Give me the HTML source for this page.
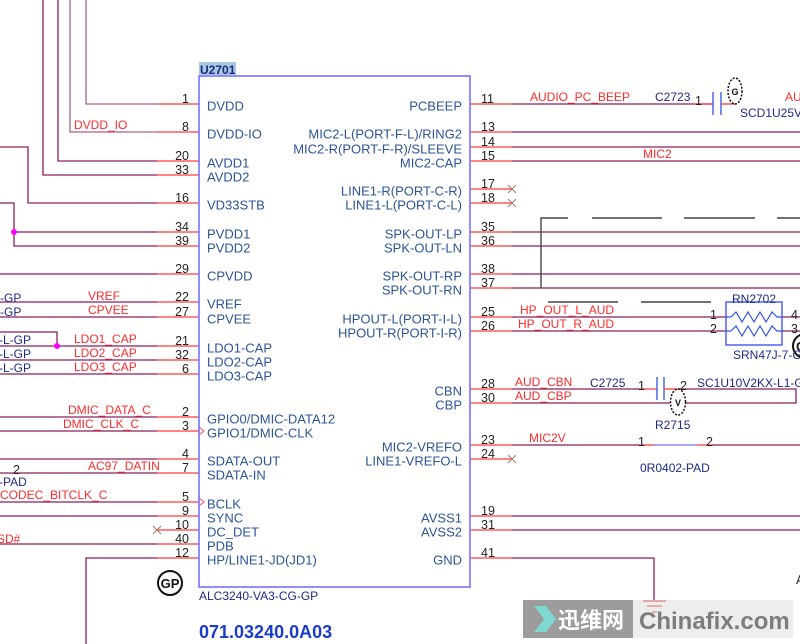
<!DOCTYPE html>
<html><head><meta charset="utf-8"><style>
html,body{margin:0;padding:0;background:#fff;}
svg{display:block;}
text{font-family:"Liberation Sans","Noto Sans CJK SC",sans-serif;}
.pn{font-size:13px;fill:#2c5496;}
.num{font-size:12.5px;fill:#222;}
.rl{font-size:12px;fill:#ff2a2a;}
.nv{font-size:12px;fill:#1f2a86;}
.w{stroke:#8a1f5c;stroke-width:1.3;fill:none;}
.wl{stroke:#b0608a;stroke-width:1.3;fill:none;}
.r{stroke:#ff3a3a;stroke-width:1.3;fill:none;}
.x{stroke:#a08070;stroke-width:1.1;}
.dg{stroke:#444;stroke-width:1.4;fill:none;}
</style></head><body>
<svg width="800" height="644" viewBox="0 0 800 644" xmlns="http://www.w3.org/2000/svg">
<rect width="800" height="644" fill="#fff"/>

<!-- LEFT WIRES -->
<polyline class="wl" points="86,0 86,104 157,104"/>
<polyline class="wl" points="70,0 70,132 157,132"/>
<polyline class="w" points="58,0 58,161 157,161"/>
<polyline class="w" points="43,0 43,175 157,175"/>
<polyline class="w" points="0,147 28,147 28,203 157,203"/>
<polyline class="w" points="0,203 14,203 14,246 157,246"/>
<line class="w" x1="14" y1="232" x2="157" y2="232"/>
<circle cx="14" cy="232" r="3" fill="#ff00ff"/>
<line class="w" x1="0" y1="274" x2="157" y2="274"/>
<line class="w" x1="0" y1="302" x2="157" y2="302"/>
<line class="w" x1="0" y1="317" x2="157" y2="317"/>
<polyline class="w" points="0,332 57,332 57,346"/>
<line class="w" x1="0" y1="346" x2="157" y2="346"/>
<circle cx="57" cy="346" r="3" fill="#ff00ff"/>
<line class="w" x1="0" y1="360" x2="157" y2="360"/>
<line class="w" x1="0" y1="374" x2="157" y2="374"/>
<line class="w" x1="0" y1="417" x2="157" y2="417"/>
<line class="w" x1="0" y1="431" x2="157" y2="431"/>
<line class="w" x1="0" y1="459" x2="157" y2="459"/>
<line class="w" x1="0" y1="473" x2="157" y2="473"/>
<line class="w" x1="0" y1="502" x2="157" y2="502"/>
<line class="w" x1="0" y1="516" x2="157" y2="516"/>
<line class="w" x1="0" y1="544" x2="157" y2="544"/>
<polyline class="w" points="86,644 86,558 157,558"/>

<!-- left red pin stubs -->
<g class="r">
<line x1="157" y1="104" x2="199" y2="104"/><line x1="157" y1="132" x2="199" y2="132"/>
<line x1="157" y1="161" x2="199" y2="161"/><line x1="157" y1="175" x2="199" y2="175"/>
<line x1="157" y1="203" x2="199" y2="203"/><line x1="157" y1="232" x2="199" y2="232"/>
<line x1="157" y1="246" x2="199" y2="246"/><line x1="157" y1="274" x2="199" y2="274"/>
<line x1="157" y1="302" x2="199" y2="302"/><line x1="157" y1="317" x2="199" y2="317"/>
<line x1="157" y1="346" x2="199" y2="346"/><line x1="157" y1="360" x2="199" y2="360"/>
<line x1="157" y1="374" x2="199" y2="374"/><line x1="157" y1="417" x2="199" y2="417"/>
<line x1="157" y1="431" x2="199" y2="431"/><line x1="157" y1="459" x2="199" y2="459"/>
<line x1="157" y1="473" x2="199" y2="473"/><line x1="157" y1="502" x2="199" y2="502"/>
<line x1="157" y1="516" x2="199" y2="516"/><line x1="157" y1="530" x2="199" y2="530"/>
<line x1="157" y1="544" x2="199" y2="544"/><line x1="157" y1="558" x2="199" y2="558"/>
</g>
<g class="x"><line x1="153" y1="526" x2="161" y2="534"/><line x1="161" y1="526" x2="153" y2="534"/></g>
<polyline points="199,427 204,431 199,435" fill="none" stroke="#ff5050" stroke-width="1"/>
<polyline points="199,498 204,502 199,506" fill="none" stroke="#ff5050" stroke-width="1"/>

<!-- RIGHT WIRES -->
<line class="w" x1="512" y1="104" x2="713" y2="104"/>
<line class="r" x1="694" y1="104" x2="713" y2="104"/>
<line x1="713" y1="92" x2="713" y2="115" stroke="#3050e0" stroke-width="1.3"/>
<line x1="721" y1="92" x2="721" y2="115" stroke="#3050e0" stroke-width="1.3"/>
<line class="r" x1="721" y1="104" x2="736" y2="104"/>
<ellipse cx="735" cy="91" rx="7" ry="13" fill="none" stroke="#111" stroke-width="1.5" stroke-dasharray="2,1.5"/>
<text x="735" y="95" font-size="9" text-anchor="middle" fill="#111" font-weight="bold">G</text>

<line class="w" x1="512" y1="132" x2="800" y2="132"/>
<line class="w" x1="512" y1="147" x2="800" y2="147"/>
<line class="w" x1="512" y1="161" x2="800" y2="161"/>
<line class="w" x1="512" y1="232" x2="800" y2="232"/>
<line class="w" x1="512" y1="246" x2="800" y2="246"/>
<line class="w" x1="512" y1="274" x2="800" y2="274"/>
<line class="w" x1="512" y1="288" x2="800" y2="288"/>
<line class="w" x1="512" y1="317" x2="726" y2="317"/>
<line class="w" x1="512" y1="331" x2="726" y2="331"/>
<line class="w" x1="782" y1="317" x2="800" y2="317"/>
<line class="w" x1="782" y1="331" x2="800" y2="331"/>
<!-- cap C2725 / R2715 -->
<line class="w" x1="512" y1="389" x2="640" y2="389"/>
<line class="r" x1="640" y1="389" x2="657" y2="389"/>
<line x1="657" y1="377" x2="657" y2="400" stroke="#3050e0" stroke-width="1.3"/>
<line x1="664" y1="377" x2="664" y2="400" stroke="#3050e0" stroke-width="1.3"/>
<line class="r" x1="664" y1="389" x2="680" y2="389"/>
<polyline class="w" points="680,389 796,389 796,403 686,403"/>
<line class="w" x1="512" y1="403" x2="670" y2="403"/>
<ellipse cx="678" cy="402" rx="7.5" ry="13" fill="none" stroke="#111" stroke-width="1.5" stroke-dasharray="2,1.5"/>
<text x="678" y="406" font-size="9" text-anchor="middle" fill="#111" font-weight="bold">V</text>
<!-- MIC2V -->
<line class="w" x1="512" y1="445" x2="640" y2="445"/>
<line class="r" x1="640" y1="445" x2="654" y2="445"/>
<line x1="654" y1="445" x2="697" y2="445" stroke="#7070ff" stroke-width="1.3"/>
<line class="r" x1="697" y1="445" x2="712" y2="445"/>
<line class="w" x1="712" y1="445" x2="800" y2="445"/>
<line class="w" x1="512" y1="516" x2="800" y2="516"/>
<line class="w" x1="512" y1="530" x2="800" y2="530"/>
<polyline class="w" points="512,558 654,558 654,600"/>

<!-- right red stubs -->
<g class="r">
<line x1="470" y1="104" x2="512" y2="104"/><line x1="470" y1="132" x2="512" y2="132"/>
<line x1="470" y1="147" x2="512" y2="147"/><line x1="470" y1="161" x2="512" y2="161"/>
<line x1="470" y1="189" x2="512" y2="189"/><line x1="470" y1="203" x2="512" y2="203"/>
<line x1="470" y1="232" x2="512" y2="232"/><line x1="470" y1="246" x2="512" y2="246"/>
<line x1="470" y1="274" x2="512" y2="274"/><line x1="470" y1="288" x2="512" y2="288"/>
<line x1="470" y1="317" x2="512" y2="317"/><line x1="470" y1="331" x2="512" y2="331"/>
<line x1="470" y1="389" x2="512" y2="389"/><line x1="470" y1="403" x2="512" y2="403"/>
<line x1="470" y1="445" x2="512" y2="445"/><line x1="470" y1="459" x2="512" y2="459"/>
<line x1="470" y1="516" x2="512" y2="516"/><line x1="470" y1="530" x2="512" y2="530"/>
<line x1="470" y1="558" x2="512" y2="558"/>
</g>
<g class="x">
<line x1="508" y1="185" x2="516" y2="193"/><line x1="516" y1="185" x2="508" y2="193"/>
<line x1="508" y1="199" x2="516" y2="207"/><line x1="516" y1="199" x2="508" y2="207"/>
<line x1="508" y1="455" x2="516" y2="463"/><line x1="516" y1="455" x2="508" y2="463"/>
</g>

<!-- dark gray dashed -->
<polyline class="dg" points="568,218 541,218 541,288"/>
<line class="dg" x1="592" y1="218" x2="662" y2="218"/>
<line class="dg" x1="684" y1="218" x2="755" y2="218"/>
<line class="dg" x1="777" y1="218" x2="800" y2="218"/>
<line class="dg" x1="548" y1="302" x2="618" y2="302"/>
<line class="dg" x1="641" y1="302" x2="711" y2="302"/>

<!-- RN2702 -->
<rect x="726" y="302" width="56" height="43" fill="none" stroke="#4455ee" stroke-width="1.4"/>
<line x1="726" y1="317" x2="731" y2="317" stroke="#3050e0" stroke-width="1.2"/>
<line x1="726" y1="331" x2="731" y2="331" stroke="#3050e0" stroke-width="1.2"/>
<polyline points="731,317 736,312 742,322 748,312 754,322 760,312 766,322 772,312 777,317 782,317" fill="none" stroke="#3050e0" stroke-width="1.2"/>
<polyline points="731,331 736,326 742,336 748,326 754,336 760,326 766,336 772,326 777,331 782,331" fill="none" stroke="#3050e0" stroke-width="1.2"/>
<circle cx="805" cy="346" r="12" fill="#fff" stroke="#111" stroke-width="2"/>
<text x="796" y="351" font-size="13" font-weight="bold" fill="#111">G</text>

<!-- chip box -->
<rect x="199" y="76" width="271" height="511" fill="none" stroke="#7272ff" stroke-width="1.6"/>
<rect x="199" y="62" width="37" height="13" fill="#a9c8df"/>
<text x="200" y="74" font-size="12" font-weight="bold" fill="#1a2a80">U2701</text>

<!-- left pin names -->
<g class="pn">
<text x="207" y="110.5">DVDD</text>
<text x="207" y="138.5">DVDD-IO</text>
<text x="207" y="167.5">AVDD1</text>
<text x="207" y="181.5">AVDD2</text>
<text x="207" y="209.5">VD33STB</text>
<text x="207" y="238.5">PVDD1</text>
<text x="207" y="252.5">PVDD2</text>
<text x="207" y="280.5">CPVDD</text>
<text x="207" y="308.5">VREF</text>
<text x="207" y="323.5">CPVEE</text>
<text x="207" y="352.5">LDO1-CAP</text>
<text x="207" y="366.5">LDO2-CAP</text>
<text x="207" y="380.5">LDO3-CAP</text>
<text x="207" y="423.5">GPIO0/DMIC-DATA12</text>
<text x="207" y="437.5">GPIO1/DMIC-CLK</text>
<text x="207" y="465.5">SDATA-OUT</text>
<text x="207" y="479.5">SDATA-IN</text>
<text x="207" y="508.5">BCLK</text>
<text x="207" y="522.5">SYNC</text>
<text x="207" y="536.5">DC_DET</text>
<text x="207" y="550.5">PDB</text>
<text x="207" y="564.5">HP/LINE1-JD(JD1)</text>
</g>
<!-- left numbers -->
<g class="num" text-anchor="end">
<text x="189" y="103">1</text><text x="189" y="131">8</text><text x="189" y="160">20</text>
<text x="189" y="174">33</text><text x="189" y="202">16</text><text x="189" y="231">34</text>
<text x="189" y="245">39</text><text x="189" y="273">29</text><text x="189" y="301">22</text>
<text x="189" y="316">27</text><text x="189" y="345">21</text><text x="189" y="359">32</text>
<text x="189" y="373">6</text><text x="189" y="416">2</text><text x="189" y="430">3</text>
<text x="189" y="458">4</text><text x="189" y="472">7</text><text x="189" y="501">5</text>
<text x="189" y="515">9</text><text x="189" y="529">10</text><text x="189" y="543">40</text>
<text x="189" y="557">12</text>
</g>

<!-- right pin names -->
<g class="pn" text-anchor="end">
<text x="462" y="110.5">PCBEEP</text>
<text x="462" y="138.5">MIC2-L(PORT-F-L)/RING2</text>
<text x="462" y="153.5">MIC2-R(PORT-F-R)/SLEEVE</text>
<text x="462" y="167.5">MIC2-CAP</text>
<text x="462" y="195.5">LINE1-R(PORT-C-R)</text>
<text x="462" y="209.5">LINE1-L(PORT-C-L)</text>
<text x="462" y="238.5">SPK-OUT-LP</text>
<text x="462" y="252.5">SPK-OUT-LN</text>
<text x="462" y="280.5">SPK-OUT-RP</text>
<text x="462" y="294.5">SPK-OUT-RN</text>
<text x="462" y="323.5">HPOUT-L(PORT-I-L)</text>
<text x="462" y="337.5">HPOUT-R(PORT-I-R)</text>
<text x="462" y="395.5">CBN</text>
<text x="462" y="409.5">CBP</text>
<text x="462" y="451.5">MIC2-VREFO</text>
<text x="462" y="465.5">LINE1-VREFO-L</text>
<text x="462" y="522.5">AVSS1</text>
<text x="462" y="536.5">AVSS2</text>
<text x="462" y="564.5">GND</text>
</g>
<!-- right numbers -->
<g class="num">
<text x="481" y="103">11</text><text x="481" y="131">13</text><text x="481" y="146">14</text>
<text x="481" y="160">15</text><text x="481" y="188">17</text><text x="481" y="202">18</text>
<text x="481" y="231">35</text><text x="481" y="245">36</text><text x="481" y="273">38</text>
<text x="481" y="287">37</text><text x="481" y="316">25</text><text x="481" y="330">26</text>
<text x="481" y="388">28</text><text x="481" y="402">30</text><text x="481" y="444">23</text>
<text x="481" y="458">24</text><text x="481" y="515">19</text><text x="481" y="529">31</text>
<text x="481" y="557">41</text>
</g>

<!-- red net labels -->
<g class="rl">
<text x="74" y="129">DVDD_IO</text>
<text x="88" y="300">VREF</text>
<text x="88" y="314">CPVEE</text>
<text x="74" y="343">LDO1_CAP</text>
<text x="74" y="357">LDO2_CAP</text>
<text x="74" y="371">LDO3_CAP</text>
<text x="68" y="414">DMIC_DATA_C</text>
<text x="63" y="428">DMIC_CLK_C</text>
<text x="88" y="470">AC97_DATIN</text>
<text x="0" y="499">CODEC_BITCLK_C</text>
<text x="-3" y="543">SD#</text>
<text x="530" y="101">AUDIO_PC_BEEP</text>
<text x="785" y="101">AU</text>
<text x="643" y="158">MIC2</text>
<text x="520" y="314">HP_OUT_L_AUD</text>
<text x="518" y="328">HP_OUT_R_AUD</text>
<text x="515" y="386">AUD_CBN</text>
<text x="515" y="400">AUD_CBP</text>
<text x="529" y="442">MIC2V</text>
</g>

<!-- navy labels -->
<g class="nv">
<text x="0" y="302">-GP</text>
<text x="0" y="316">-GP</text>
<text x="-1" y="344">-L-GP</text>
<text x="-1" y="358">-L-GP</text>
<text x="-1" y="372">-L-GP</text>
<text x="-1" y="486">-PAD</text>
<text x="655" y="101">C2723</text>
<text x="740" y="117">SCD1U25V</text>
<text x="590" y="387">C2725</text>
<text x="697" y="387">SC1U10V2KX-L1-G</text>
<text x="655" y="429">R2715</text>
<text x="640" y="472">0R0402-PAD</text>
<text x="732" y="303">RN2702</text>
<text x="733" y="359">SRN47J-7-G</text>
<text x="199" y="600">ALC3240-VA3-CG-GP</text>
</g>
<g class="num">
<text x="13" y="474">2</text>
<text x="695" y="105">1</text>
<text x="638" y="390">1</text><text x="680" y="390">2</text>
<text x="638" y="446">1</text><text x="706" y="446">2</text>
<text x="710" y="319">1</text><text x="710" y="333">2</text>
<text x="791" y="319">4</text><text x="791" y="333">3</text>
<text x="796" y="584">A</text>
</g>

<!-- GP circle -->
<circle cx="170" cy="583" r="12" fill="#fff" stroke="#111" stroke-width="2"/>
<text x="170" y="588" font-size="13" font-weight="bold" text-anchor="middle" fill="#111">GP</text>

<text x="199" y="638" font-size="18" font-weight="bold" fill="#1a3cc8">071.03240.0A03</text>

<!-- watermark -->
<rect x="523" y="600" width="110" height="38" fill="#9c9c9c"/>
<rect x="633" y="600" width="160" height="38" fill="#ededed"/>
<polygon points="534,606 546,606 556,619 546,632 534,632 544,619" fill="#7fd8d0"/>
<text x="558" y="628" font-size="22" font-weight="bold" fill="#fff">迅维网</text>
<text x="639" y="629" font-size="24" font-weight="bold" fill="#7d7d7d">Chinafix.com</text>
<line x1="643" y1="601" x2="666" y2="601" stroke="#e08080" stroke-width="1.2"/>
<line x1="647" y1="606" x2="662" y2="606" stroke="#e08080" stroke-width="1.2"/>
<line x1="652" y1="612" x2="657" y2="612" stroke="#e08080" stroke-width="1.2"/>
</svg>
</body></html>
